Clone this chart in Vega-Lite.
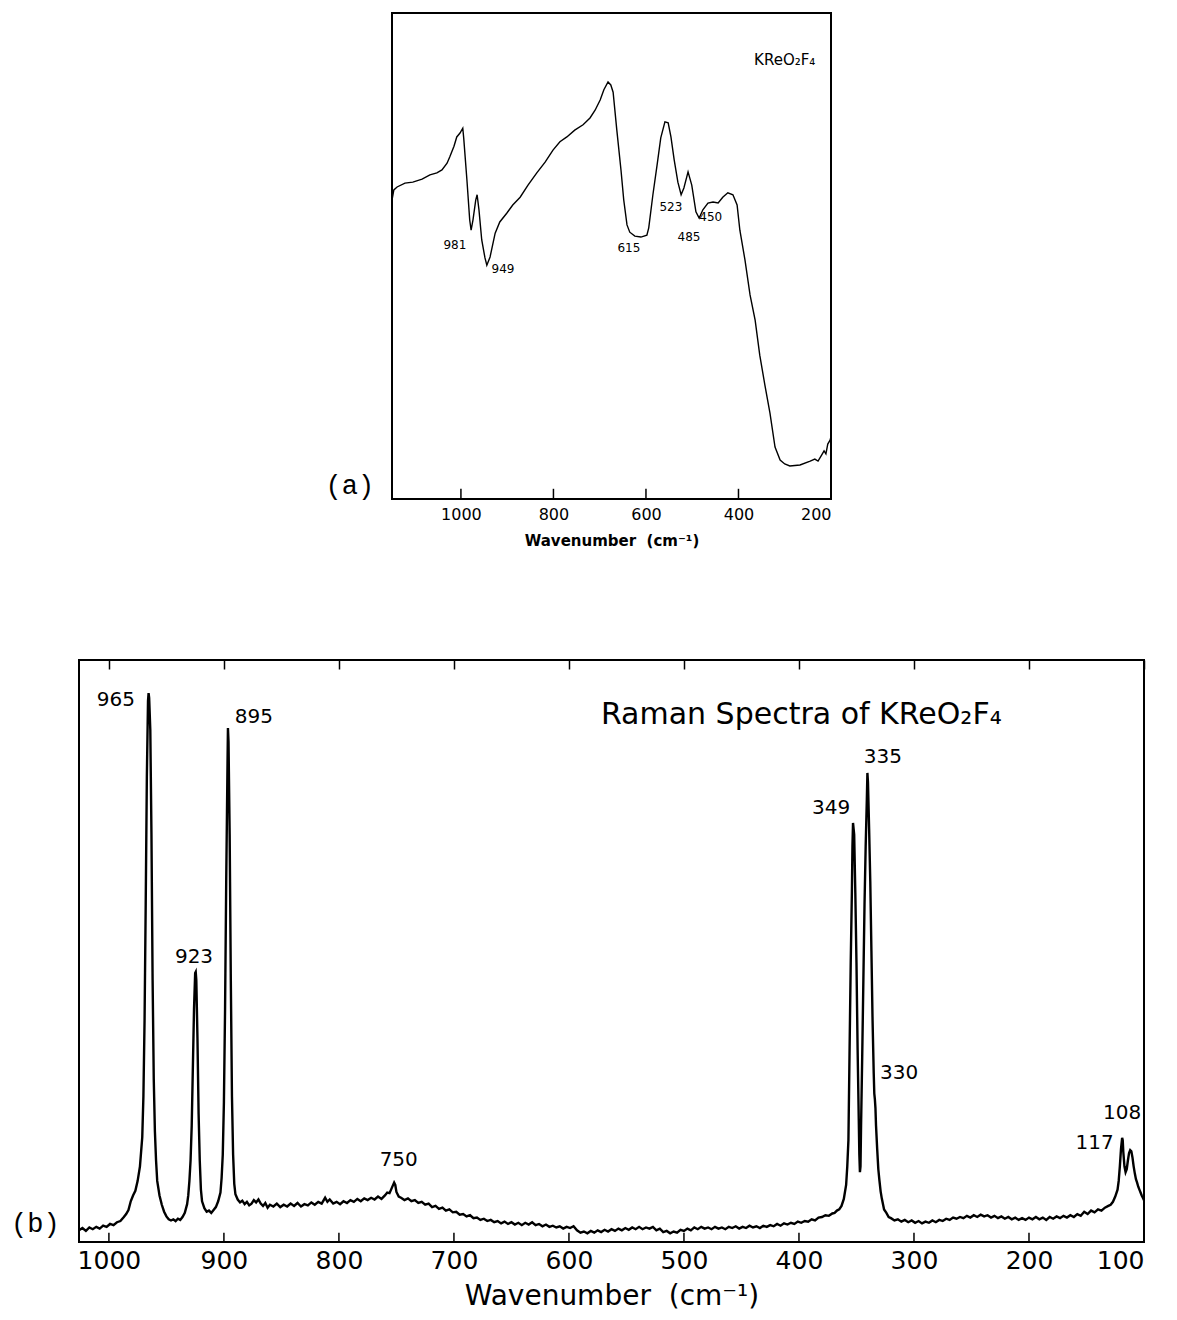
{
  "$schema": "https://vega.github.io/schema/vega-lite/v6.json",
  "background": "white",
  "padding": {"left": 9, "top": 12, "right": 5, "bottom": 5},
  "config": {
    "view": {"stroke": "black", "strokeWidth": 2},
    "font": "DejaVu Sans",
    "axis": {"domain": false, "grid": false, "tickColor": "black", "labelColor": "black", "titleColor": "black", "tickWidth": 1.5, "labelFont": "DejaVu Sans", "titleFont": "DejaVu Sans", "format": "d"}
  },
  "spacing": 161,
  "bounds": "flush",
  "center": true,
  "datasets": {
    "ir": [
      {"wn": 1149, "T": 61.5}, {"wn": 1145, "T": 63.6}, {"wn": 1138, "T": 64.2}, {"wn": 1121, "T": 65.0}, {"wn": 1104, "T": 65.2},
      {"wn": 1084, "T": 65.8}, {"wn": 1067, "T": 66.7}, {"wn": 1052, "T": 67.1}, {"wn": 1041, "T": 67.7}, {"wn": 1030, "T": 69.1},
      {"wn": 1024, "T": 70.4}, {"wn": 1015, "T": 72.6}, {"wn": 1009, "T": 74.5}, {"wn": 1002, "T": 75.3}, {"wn": 996, "T": 76.3},
      {"wn": 994, "T": 74.3}, {"wn": 987, "T": 65.6}, {"wn": 981, "T": 57.4}, {"wn": 978, "T": 55.3}, {"wn": 974, "T": 57.4},
      {"wn": 968, "T": 61.5}, {"wn": 965, "T": 62.6}, {"wn": 961, "T": 59.5}, {"wn": 955, "T": 53.3}, {"wn": 948, "T": 49.6},
      {"wn": 944, "T": 48.1}, {"wn": 937, "T": 49.8}, {"wn": 926, "T": 54.7}, {"wn": 916, "T": 57.0}, {"wn": 901, "T": 58.8},
      {"wn": 888, "T": 60.5}, {"wn": 872, "T": 62.1}, {"wn": 855, "T": 64.6}, {"wn": 836, "T": 67.1}, {"wn": 818, "T": 69.3},
      {"wn": 801, "T": 71.8}, {"wn": 786, "T": 73.5}, {"wn": 771, "T": 74.5}, {"wn": 754, "T": 75.9}, {"wn": 736, "T": 77.0},
      {"wn": 721, "T": 78.4}, {"wn": 710, "T": 80.0}, {"wn": 699, "T": 82.1}, {"wn": 691, "T": 84.2}, {"wn": 682, "T": 85.8},
      {"wn": 676, "T": 85.2}, {"wn": 671, "T": 83.7}, {"wn": 663, "T": 75.9}, {"wn": 654, "T": 67.7}, {"wn": 648, "T": 61.5},
      {"wn": 641, "T": 56.4}, {"wn": 635, "T": 54.9}, {"wn": 624, "T": 54.1}, {"wn": 611, "T": 53.9}, {"wn": 598, "T": 54.3},
      {"wn": 594, "T": 55.8}, {"wn": 585, "T": 62.6}, {"wn": 576, "T": 68.7}, {"wn": 568, "T": 74.3}, {"wn": 559, "T": 77.6},
      {"wn": 552, "T": 77.4}, {"wn": 546, "T": 74.5}, {"wn": 539, "T": 69.8}, {"wn": 531, "T": 65.2}, {"wn": 524, "T": 62.6},
      {"wn": 518, "T": 64.0}, {"wn": 509, "T": 67.3}, {"wn": 501, "T": 64.6}, {"wn": 492, "T": 59.1}, {"wn": 485, "T": 57.8},
      {"wn": 477, "T": 59.5}, {"wn": 466, "T": 60.9}, {"wn": 455, "T": 61.1}, {"wn": 444, "T": 60.9}, {"wn": 434, "T": 62.1},
      {"wn": 423, "T": 63.0}, {"wn": 412, "T": 62.6}, {"wn": 403, "T": 60.5}, {"wn": 397, "T": 55.3}, {"wn": 386, "T": 49.2},
      {"wn": 375, "T": 42.0}, {"wn": 364, "T": 36.8}, {"wn": 354, "T": 29.6}, {"wn": 343, "T": 23.5}, {"wn": 332, "T": 17.7},
      {"wn": 321, "T": 10.7}, {"wn": 310, "T": 8.0}, {"wn": 300, "T": 7.2}, {"wn": 289, "T": 6.8}, {"wn": 267, "T": 7.0},
      {"wn": 245, "T": 7.8}, {"wn": 235, "T": 8.2}, {"wn": 228, "T": 7.8}, {"wn": 220, "T": 9.1}, {"wn": 215, "T": 9.9},
      {"wn": 211, "T": 9.3}, {"wn": 207, "T": 11.3}, {"wn": 202, "T": 12.1}, {"wn": 200, "T": 12.8}
    ],
    "ir_ticks": [{"wn": 1000}, {"wn": 800}, {"wn": 600}, {"wn": 400}],
    "ir_peaks": [
      {"wn": 1013, "T": 52.3, "label": "981"},
      {"wn": 909, "T": 47.3, "label": "949"},
      {"wn": 637, "T": 51.6, "label": "615"},
      {"wn": 546, "T": 60.1, "label": "523"},
      {"wn": 507, "T": 53.9, "label": "485"},
      {"wn": 460, "T": 58.0, "label": "450"}
    ],
    "ir_title": [{"wn": 300, "T": 90.3, "label": "KReO₂F₄"}],
    "ir_panel": [{"wn": 1240, "T": 2.7, "label": "(a)"}],
    "raman": [
      {"wn": 1026, "I": 2.0}, {"wn": 1023, "I": 2.4}, {"wn": 1020, "I": 1.9}, {"wn": 1017, "I": 2.5}, {"wn": 1014, "I": 2.2},
      {"wn": 1011, "I": 2.6}, {"wn": 1008, "I": 2.3}, {"wn": 1005, "I": 2.8}, {"wn": 1002, "I": 2.6}, {"wn": 999, "I": 3.1},
      {"wn": 996, "I": 2.9}, {"wn": 993, "I": 3.4}, {"wn": 990, "I": 3.6}, {"wn": 987, "I": 4.3}, {"wn": 985, "I": 4.8},
      {"wn": 983, "I": 5.5}, {"wn": 981, "I": 7.0}, {"wn": 979, "I": 8.0}, {"wn": 977, "I": 8.8}, {"wn": 975, "I": 10.5},
      {"wn": 973, "I": 13}, {"wn": 971, "I": 18}, {"wn": 970, "I": 25}, {"wn": 969, "I": 38}, {"wn": 968, "I": 58},
      {"wn": 967, "I": 80}, {"wn": 966, "I": 93}, {"wn": 965.5, "I": 94.3}, {"wn": 965, "I": 93.5}, {"wn": 964, "I": 88},
      {"wn": 963, "I": 70}, {"wn": 962, "I": 45}, {"wn": 961, "I": 28}, {"wn": 960, "I": 19}, {"wn": 959, "I": 14},
      {"wn": 958, "I": 10.5}, {"wn": 956, "I": 8.0}, {"wn": 954, "I": 6.4}, {"wn": 952, "I": 5.2}, {"wn": 950, "I": 4.4},
      {"wn": 948, "I": 3.9}, {"wn": 946, "I": 3.7}, {"wn": 944, "I": 3.9}, {"wn": 942, "I": 3.6}, {"wn": 940, "I": 4.0},
      {"wn": 938, "I": 3.8}, {"wn": 936, "I": 4.3}, {"wn": 934, "I": 5.0}, {"wn": 932, "I": 6.5}, {"wn": 931, "I": 8.0},
      {"wn": 930, "I": 10.5}, {"wn": 929, "I": 14}, {"wn": 928, "I": 20}, {"wn": 927, "I": 30}, {"wn": 926, "I": 40},
      {"wn": 925, "I": 46.2}, {"wn": 924.5, "I": 46.4}, {"wn": 924, "I": 45}, {"wn": 923, "I": 35}, {"wn": 922, "I": 22},
      {"wn": 921, "I": 14}, {"wn": 920, "I": 9}, {"wn": 919, "I": 7}, {"wn": 917, "I": 5.8}, {"wn": 915, "I": 5.2},
      {"wn": 913, "I": 5.4}, {"wn": 911, "I": 5.0}, {"wn": 909, "I": 5.5}, {"wn": 907, "I": 6.0}, {"wn": 905, "I": 7.0},
      {"wn": 903, "I": 8.5}, {"wn": 902, "I": 11}, {"wn": 901, "I": 15}, {"wn": 900, "I": 24}, {"wn": 899, "I": 40},
      {"wn": 898, "I": 62}, {"wn": 897, "I": 80}, {"wn": 896.5, "I": 88.3}, {"wn": 896, "I": 86}, {"wn": 895, "I": 70},
      {"wn": 894, "I": 45}, {"wn": 893, "I": 25}, {"wn": 892, "I": 15}, {"wn": 891, "I": 10}, {"wn": 890, "I": 8.2},
      {"wn": 888, "I": 7.3}, {"wn": 886, "I": 6.8}, {"wn": 884, "I": 7.1}, {"wn": 882, "I": 6.5}, {"wn": 880, "I": 6.9},
      {"wn": 878, "I": 6.3}, {"wn": 876, "I": 6.6}, {"wn": 874, "I": 7.2}, {"wn": 872, "I": 6.8}, {"wn": 870, "I": 7.3},
      {"wn": 868, "I": 6.6}, {"wn": 866, "I": 6.2}, {"wn": 864, "I": 6.7}, {"wn": 862, "I": 5.9}, {"wn": 860, "I": 6.4},
      {"wn": 857, "I": 6.1}, {"wn": 854, "I": 6.6}, {"wn": 851, "I": 6.0}, {"wn": 848, "I": 6.4}, {"wn": 845, "I": 6.1},
      {"wn": 842, "I": 6.6}, {"wn": 839, "I": 6.2}, {"wn": 836, "I": 6.7}, {"wn": 833, "I": 6.1}, {"wn": 830, "I": 6.5},
      {"wn": 827, "I": 6.3}, {"wn": 824, "I": 6.8}, {"wn": 821, "I": 6.4}, {"wn": 818, "I": 6.9}, {"wn": 815, "I": 6.6},
      {"wn": 812, "I": 7.6}, {"wn": 810, "I": 6.9}, {"wn": 808, "I": 7.3}, {"wn": 805, "I": 6.6}, {"wn": 802, "I": 6.9},
      {"wn": 799, "I": 6.5}, {"wn": 796, "I": 7.0}, {"wn": 793, "I": 6.7}, {"wn": 790, "I": 7.2}, {"wn": 787, "I": 6.9},
      {"wn": 784, "I": 7.4}, {"wn": 781, "I": 7.0}, {"wn": 778, "I": 7.5}, {"wn": 775, "I": 7.2}, {"wn": 772, "I": 7.6},
      {"wn": 769, "I": 7.3}, {"wn": 766, "I": 7.8}, {"wn": 763, "I": 7.4}, {"wn": 760, "I": 8.0}, {"wn": 758, "I": 8.5},
      {"wn": 756, "I": 8.4}, {"wn": 754, "I": 9.3}, {"wn": 752, "I": 10.2}, {"wn": 751, "I": 9.8}, {"wn": 750, "I": 8.6},
      {"wn": 748, "I": 7.8}, {"wn": 746, "I": 7.6}, {"wn": 743, "I": 7.2}, {"wn": 740, "I": 7.5}, {"wn": 737, "I": 7.0},
      {"wn": 734, "I": 7.2}, {"wn": 731, "I": 6.7}, {"wn": 728, "I": 6.9}, {"wn": 725, "I": 6.4}, {"wn": 722, "I": 6.6},
      {"wn": 719, "I": 6.0}, {"wn": 716, "I": 6.2}, {"wn": 713, "I": 5.7}, {"wn": 710, "I": 5.9}, {"wn": 707, "I": 5.4},
      {"wn": 704, "I": 5.6}, {"wn": 701, "I": 5.1}, {"wn": 698, "I": 5.2}, {"wn": 695, "I": 4.7}, {"wn": 692, "I": 4.8},
      {"wn": 689, "I": 4.4}, {"wn": 686, "I": 4.6}, {"wn": 683, "I": 4.1}, {"wn": 680, "I": 4.2}, {"wn": 677, "I": 3.8},
      {"wn": 674, "I": 4.0}, {"wn": 671, "I": 3.6}, {"wn": 668, "I": 3.8}, {"wn": 665, "I": 3.4}, {"wn": 662, "I": 3.6},
      {"wn": 659, "I": 3.2}, {"wn": 656, "I": 3.5}, {"wn": 653, "I": 3.1}, {"wn": 650, "I": 3.4}, {"wn": 647, "I": 3.0},
      {"wn": 644, "I": 3.3}, {"wn": 641, "I": 2.9}, {"wn": 638, "I": 3.3}, {"wn": 635, "I": 3.0}, {"wn": 632, "I": 3.4},
      {"wn": 629, "I": 2.9}, {"wn": 626, "I": 3.1}, {"wn": 623, "I": 2.7}, {"wn": 620, "I": 3.0}, {"wn": 617, "I": 2.6},
      {"wn": 614, "I": 2.8}, {"wn": 611, "I": 2.5}, {"wn": 608, "I": 2.7}, {"wn": 605, "I": 2.3}, {"wn": 602, "I": 2.6},
      {"wn": 599, "I": 2.4}, {"wn": 596, "I": 2.7}, {"wn": 593, "I": 2.0}, {"wn": 590, "I": 1.6}, {"wn": 587, "I": 1.8},
      {"wn": 584, "I": 1.5}, {"wn": 581, "I": 1.9}, {"wn": 578, "I": 1.6}, {"wn": 575, "I": 2.0}, {"wn": 572, "I": 1.7},
      {"wn": 569, "I": 2.1}, {"wn": 566, "I": 1.8}, {"wn": 563, "I": 2.2}, {"wn": 560, "I": 1.9}, {"wn": 557, "I": 2.3},
      {"wn": 554, "I": 2.0}, {"wn": 551, "I": 2.4}, {"wn": 548, "I": 2.1}, {"wn": 545, "I": 2.5}, {"wn": 542, "I": 2.2},
      {"wn": 539, "I": 2.6}, {"wn": 536, "I": 2.2}, {"wn": 533, "I": 2.5}, {"wn": 530, "I": 2.3}, {"wn": 527, "I": 2.6},
      {"wn": 524, "I": 2.0}, {"wn": 521, "I": 2.3}, {"wn": 518, "I": 1.7}, {"wn": 515, "I": 1.9}, {"wn": 512, "I": 1.5},
      {"wn": 509, "I": 1.8}, {"wn": 506, "I": 1.6}, {"wn": 503, "I": 2.1}, {"wn": 500, "I": 1.9}, {"wn": 497, "I": 2.3},
      {"wn": 494, "I": 2.0}, {"wn": 491, "I": 2.5}, {"wn": 488, "I": 2.2}, {"wn": 485, "I": 2.6}, {"wn": 482, "I": 2.3},
      {"wn": 479, "I": 2.5}, {"wn": 476, "I": 2.2}, {"wn": 473, "I": 2.6}, {"wn": 470, "I": 2.3}, {"wn": 467, "I": 2.5},
      {"wn": 464, "I": 2.2}, {"wn": 461, "I": 2.6}, {"wn": 458, "I": 2.4}, {"wn": 455, "I": 2.7}, {"wn": 452, "I": 2.3},
      {"wn": 449, "I": 2.6}, {"wn": 446, "I": 2.4}, {"wn": 443, "I": 2.8}, {"wn": 440, "I": 2.5}, {"wn": 437, "I": 2.7},
      {"wn": 434, "I": 2.4}, {"wn": 431, "I": 2.8}, {"wn": 428, "I": 2.6}, {"wn": 425, "I": 2.9}, {"wn": 422, "I": 2.7},
      {"wn": 419, "I": 3.1}, {"wn": 416, "I": 2.8}, {"wn": 413, "I": 3.2}, {"wn": 410, "I": 3.0}, {"wn": 407, "I": 3.3},
      {"wn": 404, "I": 3.1}, {"wn": 401, "I": 3.5}, {"wn": 398, "I": 3.3}, {"wn": 395, "I": 3.6}, {"wn": 392, "I": 3.5},
      {"wn": 389, "I": 3.9}, {"wn": 386, "I": 3.7}, {"wn": 383, "I": 4.2}, {"wn": 380, "I": 4.3}, {"wn": 377, "I": 4.6},
      {"wn": 374, "I": 4.5}, {"wn": 371, "I": 4.9}, {"wn": 369, "I": 5.0}, {"wn": 367, "I": 5.4}, {"wn": 365, "I": 5.6},
      {"wn": 363, "I": 6.2}, {"wn": 361, "I": 7.4}, {"wn": 359, "I": 9.8}, {"wn": 358, "I": 13}, {"wn": 357, "I": 17.5},
      {"wn": 356, "I": 33}, {"wn": 355, "I": 48}, {"wn": 354, "I": 60}, {"wn": 353.5, "I": 68}, {"wn": 353, "I": 72},
      {"wn": 352, "I": 70}, {"wn": 351, "I": 60}, {"wn": 350, "I": 48}, {"wn": 349, "I": 33}, {"wn": 348, "I": 21},
      {"wn": 347.5, "I": 15}, {"wn": 347, "I": 12}, {"wn": 346.5, "I": 13}, {"wn": 346, "I": 20}, {"wn": 345, "I": 32},
      {"wn": 344, "I": 45}, {"wn": 343, "I": 58}, {"wn": 342, "I": 68}, {"wn": 341, "I": 76}, {"wn": 340.5, "I": 80.6},
      {"wn": 340, "I": 79}, {"wn": 339, "I": 71}, {"wn": 338, "I": 62}, {"wn": 337, "I": 50}, {"wn": 336, "I": 38},
      {"wn": 335, "I": 29}, {"wn": 334.5, "I": 25.5}, {"wn": 334, "I": 24.5}, {"wn": 333.5, "I": 23}, {"wn": 333, "I": 20},
      {"wn": 332, "I": 16}, {"wn": 331, "I": 12.5}, {"wn": 330, "I": 10.5}, {"wn": 329, "I": 8.7}, {"wn": 328, "I": 7.5},
      {"wn": 326, "I": 5.6}, {"wn": 324, "I": 5.0}, {"wn": 322, "I": 4.3}, {"wn": 320, "I": 4.1}, {"wn": 317, "I": 3.7},
      {"wn": 314, "I": 3.9}, {"wn": 311, "I": 3.5}, {"wn": 308, "I": 3.8}, {"wn": 305, "I": 3.4}, {"wn": 302, "I": 3.7},
      {"wn": 299, "I": 3.3}, {"wn": 296, "I": 3.6}, {"wn": 293, "I": 3.2}, {"wn": 290, "I": 3.5}, {"wn": 287, "I": 3.3},
      {"wn": 284, "I": 3.7}, {"wn": 281, "I": 3.4}, {"wn": 278, "I": 3.8}, {"wn": 275, "I": 3.6}, {"wn": 272, "I": 4.0},
      {"wn": 269, "I": 3.8}, {"wn": 266, "I": 4.2}, {"wn": 263, "I": 4.0}, {"wn": 260, "I": 4.3}, {"wn": 257, "I": 4.1},
      {"wn": 254, "I": 4.5}, {"wn": 251, "I": 4.2}, {"wn": 248, "I": 4.6}, {"wn": 245, "I": 4.3}, {"wn": 242, "I": 4.7},
      {"wn": 239, "I": 4.4}, {"wn": 236, "I": 4.6}, {"wn": 233, "I": 4.2}, {"wn": 230, "I": 4.5}, {"wn": 227, "I": 4.1},
      {"wn": 224, "I": 4.4}, {"wn": 221, "I": 4.0}, {"wn": 218, "I": 4.3}, {"wn": 215, "I": 3.9}, {"wn": 212, "I": 4.2},
      {"wn": 209, "I": 3.8}, {"wn": 206, "I": 4.1}, {"wn": 203, "I": 3.8}, {"wn": 200, "I": 4.2}, {"wn": 197, "I": 3.9},
      {"wn": 194, "I": 4.3}, {"wn": 191, "I": 3.9}, {"wn": 188, "I": 4.2}, {"wn": 185, "I": 3.8}, {"wn": 182, "I": 4.3},
      {"wn": 179, "I": 4.0}, {"wn": 176, "I": 4.4}, {"wn": 173, "I": 4.1}, {"wn": 170, "I": 4.5}, {"wn": 167, "I": 4.2},
      {"wn": 164, "I": 4.6}, {"wn": 161, "I": 4.3}, {"wn": 158, "I": 4.8}, {"wn": 155, "I": 4.5}, {"wn": 152, "I": 5.2},
      {"wn": 149, "I": 4.8}, {"wn": 146, "I": 5.4}, {"wn": 143, "I": 5.1}, {"wn": 140, "I": 5.6}, {"wn": 137, "I": 5.4},
      {"wn": 134, "I": 5.9}, {"wn": 131, "I": 6.2}, {"wn": 129, "I": 6.4}, {"wn": 127, "I": 6.9}, {"wn": 125, "I": 7.8},
      {"wn": 123, "I": 9.0}, {"wn": 122, "I": 10.5}, {"wn": 121, "I": 13}, {"wn": 120, "I": 16}, {"wn": 119, "I": 17.9},
      {"wn": 118.5, "I": 17.5}, {"wn": 118, "I": 15.5}, {"wn": 117, "I": 13}, {"wn": 116, "I": 12.0}, {"wn": 115, "I": 12.5},
      {"wn": 114, "I": 14}, {"wn": 113, "I": 15.3}, {"wn": 112, "I": 15.8}, {"wn": 111, "I": 15.6}, {"wn": 110, "I": 14.5},
      {"wn": 109, "I": 13}, {"wn": 108, "I": 11.8}, {"wn": 107, "I": 10.8}, {"wn": 106, "I": 10.2}, {"wn": 105, "I": 9.5},
      {"wn": 104, "I": 9.0}, {"wn": 103, "I": 8.5}, {"wn": 102, "I": 8.0}, {"wn": 101, "I": 7.6}, {"wn": 100, "I": 7.2}
    ],
    "raman_ticks": [{"wn": 1000}, {"wn": 900}, {"wn": 800}, {"wn": 700}, {"wn": 600}, {"wn": 500}, {"wn": 400}, {"wn": 300}, {"wn": 200}],
    "raman_peaks": [
      {"wn": 994, "I": 93.1, "label": "965"},
      {"wn": 874, "I": 90.2, "label": "895"},
      {"wn": 926, "I": 49.0, "label": "923"},
      {"wn": 748, "I": 14.1, "label": "750"},
      {"wn": 372, "I": 74.6, "label": "349"},
      {"wn": 327, "I": 83.3, "label": "335"},
      {"wn": 313, "I": 29.0, "label": "330"},
      {"wn": 119, "I": 22.2, "label": "108"},
      {"wn": 143, "I": 17.0, "label": "117"}
    ],
    "raman_title": [{"wn": 398, "I": 90.5, "label": "Raman Spectra of KReO₂F₄"}],
    "raman_panel": [{"wn": 1064, "I": 3.1, "label": "(b)"}]
  },
  "vconcat": [
    {
      "width": 439,
      "height": 486,
      "layer": [
        {
          "data": {"name": "ir"},
          "mark": {"type": "line", "color": "black", "strokeWidth": 1.4},
          "encoding": {
            "x": {"field": "wn", "type": "quantitative", "scale": {"domain": [200, 1149], "reverse": true, "nice": false, "zero": false},
              "axis": {"values": [200, 400, 600, 800, 1000], "ticks": false, "labelPadding": 7, "labelFontSize": 16, "title": "Wavenumber\u00a0\u00a0(cm⁻¹)", "titleFontSize": 15, "titleFontWeight": "bold", "titlePadding": 11}},
            "y": {"field": "T", "type": "quantitative", "scale": {"domain": [0, 100], "nice": false}, "axis": null}
          }
        },
        {
          "data": {"name": "ir_ticks"},
          "mark": {"type": "rule", "color": "black", "strokeWidth": 1.5},
          "encoding": {
            "x": {"field": "wn", "type": "quantitative", "scale": {"domain": [200, 1149], "reverse": true, "nice": false, "zero": false}},
            "y": {"datum": 0, "type": "quantitative", "scale": {"domain": [0, 100], "nice": false}},
            "y2": {"datum": 2.1}
          }
        },
        {
          "data": {"name": "ir_peaks"},
          "mark": {"type": "text", "fontSize": 12, "color": "black", "align": "center", "baseline": "middle"},
          "encoding": {
            "x": {"field": "wn", "type": "quantitative", "scale": {"domain": [200, 1149], "reverse": true, "nice": false, "zero": false}},
            "y": {"field": "T", "type": "quantitative", "scale": {"domain": [0, 100], "nice": false}},
            "text": {"field": "label"}
          }
        },
        {
          "data": {"name": "ir_title"},
          "mark": {"type": "text", "fontSize": 15, "color": "black", "align": "center", "baseline": "middle"},
          "encoding": {
            "x": {"field": "wn", "type": "quantitative", "scale": {"domain": [200, 1149], "reverse": true, "nice": false, "zero": false}},
            "y": {"field": "T", "type": "quantitative", "scale": {"domain": [0, 100], "nice": false}},
            "text": {"field": "label"}
          }
        },
        {
          "data": {"name": "ir_panel"},
          "mark": {"type": "text", "fontSize": 27, "font": "Liberation Mono", "color": "black", "align": "center", "baseline": "middle"},
          "encoding": {
            "x": {"field": "wn", "type": "quantitative", "scale": {"domain": [200, 1149], "reverse": true, "nice": false, "zero": false}},
            "y": {"field": "T", "type": "quantitative", "scale": {"domain": [0, 100], "nice": false}},
            "text": {"field": "label"}
          }
        }
      ]
    },
    {
      "width": 1065,
      "height": 582,
      "resolve": {"axis": {"x": "independent"}},
      "layer": [
        {
          "data": {"name": "raman"},
          "mark": {"type": "line", "color": "black", "strokeWidth": 2.4},
          "encoding": {
            "x": {"field": "wn", "type": "quantitative", "scale": {"domain": [100, 1026], "reverse": true, "nice": false, "zero": false},
              "axis": {"values": [100, 200, 300, 400, 500, 600, 700, 800, 900, 1000], "ticks": false, "labelPadding": 6, "labelFontSize": 25, "title": "Wavenumber\u00a0\u00a0(cm⁻¹)", "titleFontSize": 28, "titleFontWeight": "normal", "titlePadding": 9}},
            "y": {"field": "I", "type": "quantitative", "scale": {"domain": [0, 100], "nice": false}, "axis": null}
          }
        },
        {
          "data": {"name": "raman_ticks"},
          "mark": {"type": "rule", "color": "black", "strokeWidth": 1.5},
          "encoding": {
            "x": {"field": "wn", "type": "quantitative", "scale": {"domain": [100, 1026], "reverse": true, "nice": false, "zero": false}, "axis": null},
            "y": {"datum": 0, "type": "quantitative", "scale": {"domain": [0, 100], "nice": false}},
            "y2": {"datum": 1.6}
          }
        },
        {
          "data": {"name": "raman_peaks"},
          "mark": {"type": "text", "fontSize": 20, "color": "black", "align": "center", "baseline": "middle"},
          "encoding": {
            "x": {"field": "wn", "type": "quantitative", "scale": {"domain": [100, 1026], "reverse": true, "nice": false, "zero": false},
              "axis": {"orient": "top", "values": [100, 200, 300, 400, 500, 600, 700, 800, 900, 1000], "tickSize": -9, "labels": false, "title": null}},
            "y": {"field": "I", "type": "quantitative", "scale": {"domain": [0, 100], "nice": false}},
            "text": {"field": "label"}
          }
        },
        {
          "data": {"name": "raman_title"},
          "mark": {"type": "text", "fontSize": 30, "color": "black", "align": "center", "baseline": "middle"},
          "encoding": {
            "x": {"field": "wn", "type": "quantitative", "scale": {"domain": [100, 1026], "reverse": true, "nice": false, "zero": false}, "axis": null},
            "y": {"field": "I", "type": "quantitative", "scale": {"domain": [0, 100], "nice": false}},
            "text": {"field": "label"}
          }
        },
        {
          "data": {"name": "raman_panel"},
          "mark": {"type": "text", "fontSize": 27, "font": "Liberation Mono", "color": "black", "align": "center", "baseline": "middle"},
          "encoding": {
            "x": {"field": "wn", "type": "quantitative", "scale": {"domain": [100, 1026], "reverse": true, "nice": false, "zero": false}, "axis": null},
            "y": {"field": "I", "type": "quantitative", "scale": {"domain": [0, 100], "nice": false}},
            "text": {"field": "label"}
          }
        }
      ]
    }
  ]
}
